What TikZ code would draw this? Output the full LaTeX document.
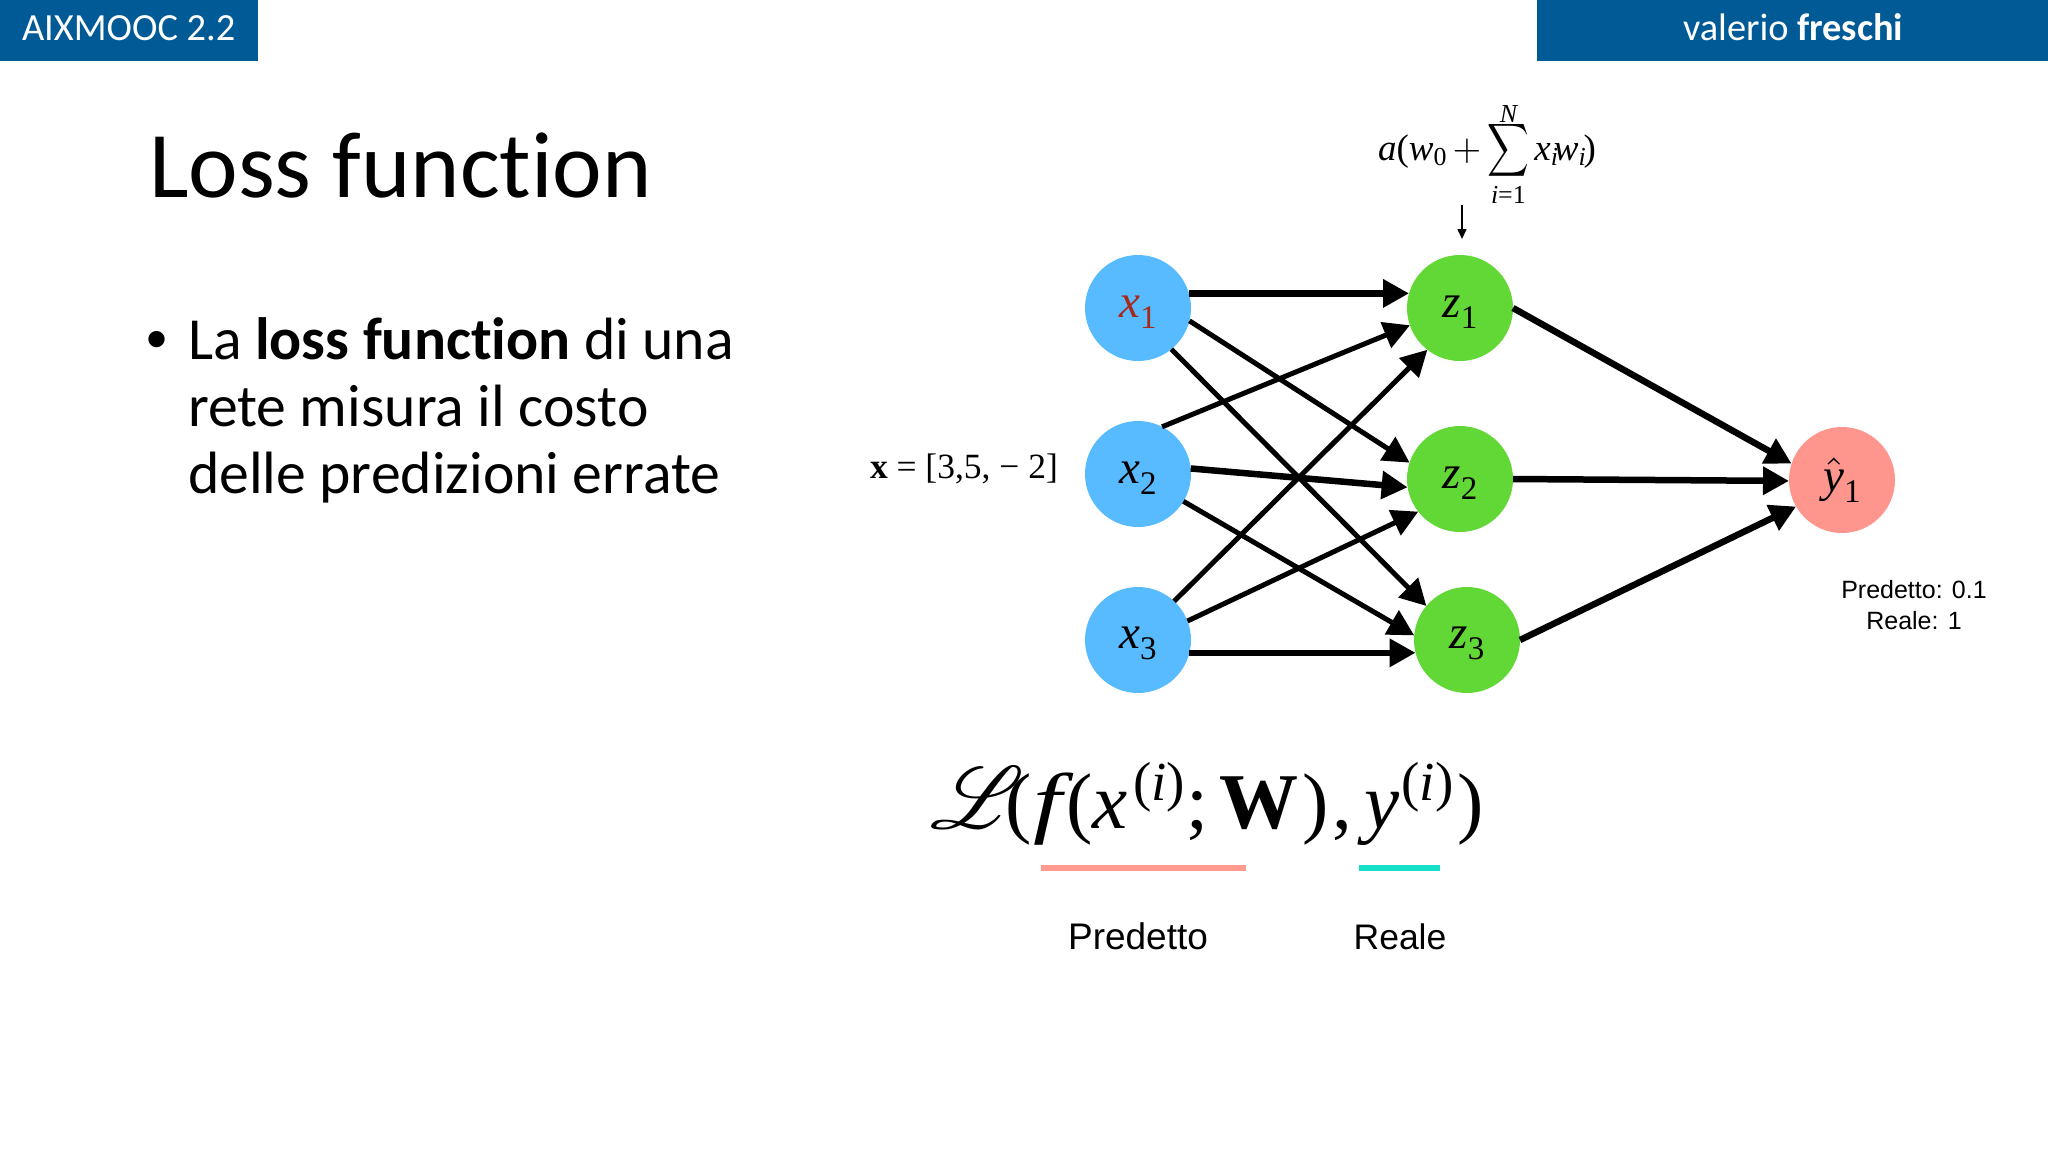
\documentclass[tikz,border=0pt]{standalone}
\usepackage[no-math]{fontspec}
\usepackage{amsmath,mathrsfs}
\setmainfont{Carlito}[Ligatures=NoCommon]
\newfontfamily\tms{Liberation Serif}
\newfontfamily\hlv{Liberation Sans}
\usetikzlibrary{arrows.meta}
\newcommand\mi[1]{\text{\tms\itshape #1}}
\newcommand\rmm[1]{\text{\tms #1}}
\newcommand\fsz[1]{\fontsize{#1}{#1}\selectfont}
\newcommand\neurlab[2]{\rule{0pt}{29pt}{\fsz{47}\tms\itshape #1}\raisebox{-11pt}{\fsz{33}\tms #2}}
\newcommand\suppar{\raisebox{28pt}{\fsz{55}(\textit{i})}}
\definecolor{barblue}{HTML}{005A96}
\definecolor{inblue}{HTML}{58BBFF}
\definecolor{hidgreen}{HTML}{62D836}
\definecolor{outpink}{HTML}{FF968D}
\definecolor{linepink}{HTML}{FF9A8E}
\definecolor{linecyan}{HTML}{14DFC8}
\definecolor{redtext}{HTML}{A52A1A}
\tikzset{
  x=1pt,y=-1pt,
  neuron/.style={circle,minimum size=106pt,inner sep=0pt,outer sep=0pt,text=black},
  innode/.style={neuron,fill=inblue},
  hidnode/.style={neuron,fill=hidgreen},
  outnode/.style={neuron,fill=outpink},
  wire/.style={line width=5pt,-{Triangle[length=26pt,width=27pt]},black},
  heavywire/.style={wire,line width=6.5pt},
  txt/.style={inner sep=0pt,outer sep=0pt,anchor=base west},
  mathlab/.style={inner sep=0pt,outer sep=0pt,anchor=base},
  sanslab/.style={inner sep=0pt,outer sep=0pt,anchor=base,font=\hlv},
  underbar/.style={line width=6.5pt},
}
\begin{document}
\scriptspace=0pt
\begin{tikzpicture}
\useasboundingbox (0,0) rectangle (2048,1152);
\fill[white] (0,0) rectangle (2048,1152);
% header bars
\fill[barblue] (0,0) rectangle (258,61);
\fill[barblue] (1537,0) rectangle (2048,61);
\node[txt,text=white] (hl) at (22,40) {\fsz{38.4}AIXMOOC 2.2};
\node[txt,text=white] (hr) at (1683,40) {\fsz{38.4}valerio \textbf{freschi}};
% title and bullet
\node[txt] (title) at (149,197) {\fsz{94}Loss function};
\node[txt] (bul) at (146,359) {\fsz{60}\hlv •};
\node[txt] (l1) at (188,359) {\fsz{59.7}La \textbf{loss function} di una};
\node[txt] (l2) at (188,426) {\fsz{59.7}rete misura il costo};
\node[txt] (l3) at (188,493) {\fsz{59.7}delle predizioni errate};
% neurons
\node[innode] (x1) at (1138,308) {\color{redtext}\neurlab{x}{1}};
\node[innode] (x2) at (1138,474) {\neurlab{x}{2}};
\node[innode] (x3) at (1138,640) {\neurlab{x}{3}};
\node[hidnode] (z1) at (1460,308) {\neurlab{z}{1}};
\node[hidnode] (z2) at (1460,479) {\neurlab{z}{2}};
\node[hidnode] (z3) at (1467,640) {\neurlab{z}{3}};
\node[outnode] (y1) at (1842,480) {\rule{0pt}{29pt}\scalebox{4.7}{$\hat{\mi{y}}$}\raisebox{-11pt}{\fsz{33}\tms 1}};
% connectors
\draw[heavywire] (x1.16) -- (z1.164);
\draw[wire] (x1.-14) -- (z2.162);
\draw[wire] (x1.-51) -- (z3.140);
\draw[wire] (x2.63) -- (z1.199);
\draw[heavywire] (x2.6) -- (z2.189);
\draw[wire] (x2.-31) -- (z3.175);
\draw[wire] (x3.47) -- (z1.232);
\draw[wire] (x3.21) -- (z2.218);
\draw[heavywire] (x3.-14) -- (z3.194);
\draw[heavywire] (z1.0) -- (y1.162);
\draw[heavywire] (z2.0) -- (y1.181);
\draw[heavywire] (z3.0) -- (y1.210);
% activation formula and its small arrow
\node[mathlab,anchor=base west] (act) at (1378,160) {\scalebox{3.7}{$\mi{a}\rmm{(}\mi{w}_{\rmm{0}}\mkern3mu{+}\mathop{\scalebox{.78}[1]{$\displaystyle\sum$}}\limits_{\mi{i}\rmm{=1}}^{\smash{\raisebox{-2.4pt}{$\scriptstyle\mi{N}$}}}\mkern-.5mu\mi{x}_{\mi{i}}\mkern-2mu\mi{w}_{\mi{i}}\mkern-1mu\rmm{)}$}};
\coordinate (acts) at (1462,205);
\coordinate (actt) at (1462,239);
\draw[line width=1.6pt,-{Triangle[length=10pt,width=9pt]}] (acts) -- (actt);
% input vector
\node[mathlab,anchor=base west] (vec) at (870,478) {\fsz{35.5}\tms\textbf{x} = [3,5, − 2]};
% predicted / real
\node[sanslab] (pr1) at (1914,598) {\fsz{25}Predetto: 0.1};
\node[sanslab] (pr2) at (1914,629) {\fsz{25}Reale: 1};
% loss formula
\node[txt] (loss) at (930,828) {\fsz{79}\tms\makebox[75pt][l]{\scalebox{8.8}{\fsz{10}$\mathscr{L}$}}(\kern2pt\scalebox{1.3}[1]{\textit{f}}\kern-7pt(\textit{x}\kern5pt\suppar\kern2pt;\kern11pt\textbf{W}\kern4pt)\kern3pt,\kern13pt\textit{y}\kern1.5pt\suppar\kern4pt)};
\coordinate (pa) at (1041,868); \coordinate (pb) at (1246,868);
\coordinate (ca) at (1359,868); \coordinate (cb) at (1440,868);
\draw[underbar,linepink] (pa) -- (pb);
\draw[underbar,linecyan] (ca) -- (cb);
\node[sanslab] (lp) at (1138,949) {\fsz{37}Predetto};
\node[sanslab] (lr) at (1400,949) {\fsz{35.5}Reale};
\end{tikzpicture}
\end{document}
